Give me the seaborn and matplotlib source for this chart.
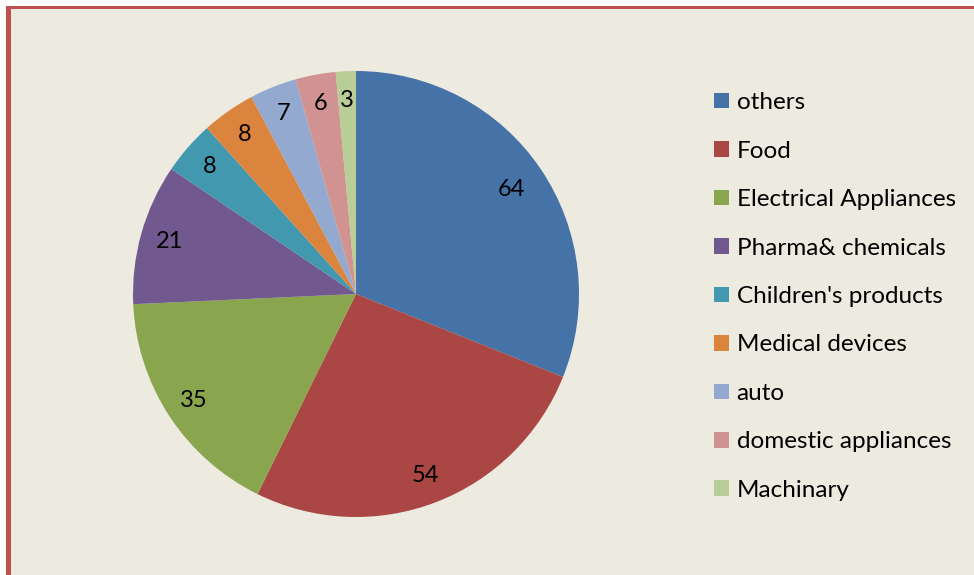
import matplotlib
matplotlib.use("Agg")
import matplotlib.pyplot as plt
from matplotlib.patches import Patch, Rectangle
import seaborn as sns

# datos del grafico
categories = ["others", "Food", "Electrical Appliances", "Pharma& chemicals",
              "Children's products", "Medical devices", "auto",
              "domestic appliances", "Machinary"]
values = [64, 54, 35, 21, 8, 8, 7, 6, 3]

colors = sns.color_palette(["#4572A7", "#AA4643", "#89A54E", "#71588F", "#4198AF",
                            "#DB843D", "#93A9CF", "#D19392", "#B9CD96"])

sns.set_theme(style="white")
plt.rcParams["font.family"] = ["Lato", "DejaVu Sans"]

W, H = 974, 575
bg = "#EDEAE0"
red = "#C0504D"

fig = plt.figure(figsize=(W / 100, H / 100), dpi=100)
fig.patch.set_facecolor("white")

# fondo beige y borde rojo (arriba e izquierda)
fig.patches.append(Rectangle((6 / W, 0), 1, 1 - 6 / H, transform=fig.transFigure,
                             facecolor=bg, edgecolor="none", zorder=-2))
fig.patches.append(Rectangle((6 / W, 0), 5 / W, 1 - 6 / H, transform=fig.transFigure,
                             facecolor=red, edgecolor="none", zorder=-1))
fig.patches.append(Rectangle((6 / W, 1 - 9 / H), 1, 3 / H, transform=fig.transFigure,
                             facecolor=red, edgecolor="none", zorder=-1))

ax = fig.add_axes([133 / W, 58 / H, 446 / W, 446 / H])
ax.set_facecolor("none")
total = sum(values)
wedges, texts, autotexts = ax.pie(
    values, colors=colors, startangle=90, counterclock=False,
    autopct=lambda p: f"{round(p * total / 100):.0f}", pctdistance=0.87,
    textprops={"fontsize": 17, "color": "black"},
    wedgeprops={"linewidth": 0})
# la etiqueta grande queda un poco mas adentro
x0, y0 = autotexts[0].get_position()
autotexts[0].set_position((x0 * 0.84 / 0.87, y0 * 0.84 / 0.87))
ax.set_xlim(-1, 1)
ax.set_ylim(-1, 1)
ax.set_aspect("equal")
ax.axis("off")

handles = [Patch(facecolor=c, edgecolor="none") for c in colors]
leg = fig.legend(handles, categories, loc="upper left",
                 bbox_to_anchor=(702 / W, 1 - 80 / H), frameon=False,
                 fontsize=17.5, handlelength=0.62, handleheight=0.62,
                 handletextpad=0.3, labelspacing=1.13, borderpad=0,
                 labelcolor="black")

fig.savefig("out.png", dpi=100, facecolor=fig.get_facecolor())
